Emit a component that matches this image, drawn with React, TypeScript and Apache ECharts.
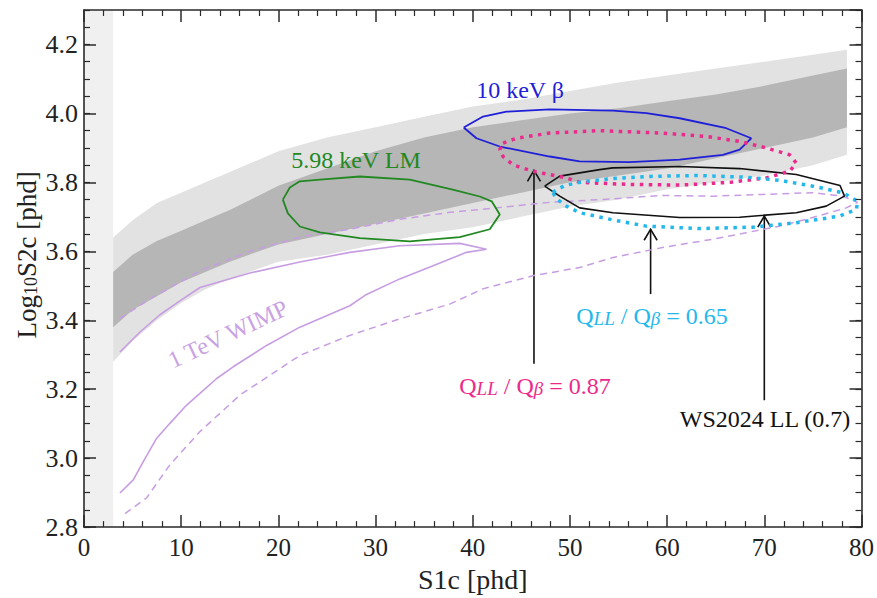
import React, { useEffect, useRef } from "react";
import * as echarts from "echarts";

const FONT = "'Liberation Serif', 'Times New Roman', serif";

// Excluded low-S1 strip
const excludedS1 = [0, 3];

// NR/ER band (grey) edges
const bandS1 = [3, 5, 7.5, 10, 12.5, 15, 20, 25, 30, 35, 40, 45, 50, 55, 60, 65, 70, 75, 78.5];
const outerUpper = [3.64, 3.69, 3.74, 3.77, 3.8, 3.83, 3.89, 3.93, 3.96, 3.99, 4.02, 4.04, 4.065, 4.09, 4.11, 4.13, 4.15, 4.17, 4.185];
const innerUpper = [3.54, 3.59, 3.63, 3.66, 3.69, 3.72, 3.79, 3.84, 3.89, 3.93, 3.96, 3.98, 4.0, 4.015, 4.035, 4.055, 4.08, 4.11, 4.13];
const innerLower = [3.38, 3.43, 3.47, 3.51, 3.54, 3.57, 3.62, 3.65, 3.68, 3.71, 3.74, 3.77, 3.8, 3.82, 3.84, 3.87, 3.9, 3.93, 3.96];
const outerLower = [3.28, 3.34, 3.4, 3.45, 3.49, 3.52, 3.57, 3.59, 3.62, 3.65, 3.67, 3.7, 3.73, 3.75, 3.78, 3.8, 3.82, 3.85, 3.88];

// Contours [S1c, log10 S2c]
const lm598: number[][] = [
  [20.46, 3.75], [21.18, 3.785], [22.21, 3.803], [24.27, 3.808], [28.38, 3.817], [33.52, 3.808],
  [37.94, 3.779], [40.72, 3.759], [41.95, 3.745], [42.78, 3.707], [41.75, 3.664], [38.66, 3.641],
  [33.52, 3.629], [28.38, 3.638], [24.27, 3.655], [22.21, 3.672], [20.98, 3.71], [20.46, 3.75],
];
const beta10: number[][] = [
  [39.07, 3.959], [41.06, 3.991], [43.47, 4.005], [47.92, 4.012], [54.43, 4.008], [57.86, 4.001],
  [61.29, 3.986], [66.09, 3.957], [68.66, 3.928], [67.46, 3.895], [65.74, 3.88], [61.29, 3.866],
  [56.14, 3.859], [51.0, 3.861], [47.92, 3.875], [42.78, 3.904], [40.38, 3.928], [39.07, 3.959],
];
const q087: number[][] = [
  [43.12, 3.914], [44.49, 3.928], [47.92, 3.943], [53.06, 3.95], [59.54, 3.943], [64.03, 3.933],
  [67.46, 3.919], [70.2, 3.9], [72.6, 3.88], [73.29, 3.856], [72.6, 3.832], [70.2, 3.813],
  [66.45, 3.8], [61.29, 3.792], [56.14, 3.794], [51.0, 3.8], [49.63, 3.813], [46.2, 3.832],
  [44.14, 3.851], [43.12, 3.875], [42.78, 3.895], [43.12, 3.914],
];
const ws2024: number[][] = [
  [47.4, 3.789], [48.95, 3.818], [53.06, 3.837], [54.4, 3.842], [61.29, 3.846], [67.46, 3.84],
  [73.29, 3.823], [77.79, 3.791], [78.25, 3.76], [76.37, 3.731], [73.29, 3.712], [67.46, 3.699],
  [61.29, 3.698], [54.43, 3.712], [51.0, 3.726], [48.95, 3.76], [47.4, 3.789],
];
const q065: number[][] = [
  [48.23, 3.771], [49.46, 3.791], [51.31, 3.802], [54.43, 3.811], [57.86, 3.817], [63.0, 3.82],
  [68.14, 3.815], [71.57, 3.806], [75.0, 3.789], [78.08, 3.77], [79.62, 3.745], [79.46, 3.721],
  [77.74, 3.702], [73.29, 3.683], [68.82, 3.67], [63.34, 3.666], [57.86, 3.673], [54.43, 3.691],
  [51.0, 3.712], [49.63, 3.731], [48.6, 3.753], [48.23, 3.771],
];
const wimpSolid: number[][] = [
  [3.7, 2.899], [5.07, 2.937], [6.1, 2.99], [7.48, 3.058], [8.84, 3.101], [10.56, 3.154], [11.93, 3.188],
  [13.65, 3.231], [15.35, 3.265], [18.79, 3.327], [22.21, 3.38], [27.35, 3.442], [29.07, 3.475],
  [32.49, 3.52], [35.92, 3.558], [39.35, 3.597], [41.41, 3.606],
  [38.66, 3.623], [32.49, 3.616], [27.35, 3.597], [22.21, 3.569], [17.07, 3.537], [11.93, 3.495],
  [9.87, 3.456], [7.81, 3.416], [5.76, 3.366], [3.7, 3.308],
];
const wimpDashed: number[][] = [
  [3.7, 3.405], [6.79, 3.462], [11.93, 3.543], [17.07, 3.6], [22.21, 3.641], [27.35, 3.664],
  [32.49, 3.693], [37.64, 3.713], [42.78, 3.727], [47.92, 3.742], [53.06, 3.75], [59.54, 3.762],
  [64.67, 3.76], [69.82, 3.765], [74.96, 3.77], [78.05, 3.76], [79.6, 3.742],
  [78.43, 3.726], [74.96, 3.698], [71.57, 3.673], [68.14, 3.654], [64.67, 3.635], [59.54, 3.611],
  [54.43, 3.582], [51.0, 3.553], [46.17, 3.529], [41.03, 3.491], [37.64, 3.447], [32.49, 3.404],
  [27.35, 3.356], [22.21, 3.298], [16.04, 3.183], [11.93, 3.077], [8.84, 2.981], [6.45, 2.885], [3.88, 2.832],
];

// Annotation arrows: x, from y, to y
const arrowS1 = [46.3, 58.3, 70.0];
const arrowFrom = [3.274, 3.476, 3.168];
const arrowTo = [3.835, 3.664, 3.702];

const xTicks = { min: 0, max: 80, interval: 10 };
const yTicks = { min: 2.8, max: 4.3, major: 0.2, minor: 0.05 };

const AX = "#2a2a2a";

function polygonSeries(upper: number[], lower: number[], fill: string) {
  return {
    type: "custom",
    silent: true,
    data: [[bandS1[0], lower[0]]],
    renderItem: (_p: any, api: any) => {
      const pts: number[][] = [];
      bandS1.forEach((x, i) => pts.push(api.coord([x, upper[i]])));
      for (let i = bandS1.length - 1; i >= 0; i--) pts.push(api.coord([bandS1[i], lower[i]]));
      return { type: "polygon", shape: { points: pts }, style: { fill } };
    },
  };
}

function lineSeries(data: number[][], color: string, width: number, type: any = "solid") {
  return {
    type: "line",
    data,
    showSymbol: false,
    symbol: "none",
    silent: true,
    smooth: false,
    lineStyle: { color, width, type, cap: "butt" },
  };
}

export default function App() {
  const ref = useRef<HTMLDivElement>(null);
  useEffect(() => {
    const chart = echarts.init(ref.current!, null, { renderer: "svg" });
    const axisLine = { show: true, lineStyle: { color: AX, width: 1.6 } };
    const majorTick = { show: true, inside: true, length: 12, lineStyle: { color: AX, width: 1.5 } };
    const minorTickAxis = { show: true, inside: true, length: 6, lineStyle: { color: AX, width: 1.2 } };
    const xCommon = {
      type: "value",
      z: 10,
      min: xTicks.min,
      max: xTicks.max,
      interval: xTicks.interval,
      splitLine: { show: false },
      axisLine,
      axisTick: majorTick,
      minorTick: { show: true, splitNumber: 5, length: 6, lineStyle: { color: AX, width: 1.2 } },
    };
    const yBase = { type: "value", z: 10, min: yTicks.min, max: yTicks.max, splitLine: { show: false } };
    const sub = (size: number, lh: number, color: string, italic = false) => ({
      fontSize: size,
      fontFamily: FONT,
      fontStyle: italic ? "italic" : "normal",
      lineHeight: lh,
      verticalAlign: "bottom",
      fill: color,
      color,
    });
    const qRich = (color: string) => ({
      n: sub(24, 28, color),
      s: sub(19, 21, color, true),
      b: sub(19, 17, color, true),
    });

    chart.setOption({
      animation: false,
      backgroundColor: "#fff",
      grid: { left: 84, right: 15, top: 10, bottom: 68 },
      xAxis: [
        {
          ...xCommon,
          position: "bottom",
          axisLabel: { fontFamily: FONT, fontSize: 25, color: "#222", margin: 8 },
          name: "S1c [phd]",
          nameLocation: "middle",
          nameGap: 37,
          nameTextStyle: { fontFamily: FONT, fontSize: 28, color: "#222" },
        },
        { ...xCommon, position: "top", axisLabel: { show: false } },
      ],
      yAxis: [
        {
          ...yBase,
          position: "left",
          interval: yTicks.major,
          axisLine,
          axisTick: majorTick,
          axisLabel: {
            fontFamily: FONT,
            fontSize: 26,
            color: "#222",
            margin: 6,
            showMaxLabel: false,
            formatter: (v: number) => v.toFixed(1),
          },
        },
        {
          ...yBase,
          position: "left",
          interval: yTicks.minor,
          axisLine: { show: false },
          axisTick: minorTickAxis,
          axisLabel: { show: false },
        },
        {
          ...yBase,
          position: "right",
          interval: yTicks.major,
          axisLine,
          axisTick: majorTick,
          axisLabel: { show: false },
        },
        {
          ...yBase,
          position: "right",
          interval: yTicks.minor,
          axisLine: { show: false },
          axisTick: minorTickAxis,
          axisLabel: { show: false },
        },
      ],
      series: [
        {
          type: "custom",
          silent: true,
          z: 1,
          data: [[excludedS1[0], yTicks.min]],
          renderItem: (_p: any, api: any) => {
            const a = api.coord([excludedS1[0], yTicks.max]);
            const b = api.coord([excludedS1[1], yTicks.min]);
            return {
              type: "rect",
              shape: { x: a[0], y: a[1], width: b[0] - a[0], height: b[1] - a[1] },
              style: { fill: "#f0f0f0" },
            };
          },
        },
        polygonSeries(outerUpper, outerLower, "#e2e2e2"),
        polygonSeries(innerUpper, innerLower, "#b6b6b6"),
        lineSeries(wimpDashed, "#c79de2", 1.5, [7, 5]),
        lineSeries(wimpSolid, "#c79de2", 1.6),
        lineSeries(lm598, "#228822", 1.8),
        lineSeries(beta10, "#1f1fd8", 1.8),
        lineSeries(ws2024, "#111111", 1.6),
        lineSeries(q087, "#ec2a8c", 3.5, [3.5, 5.5]),
        lineSeries(q065, "#22b8ec", 3.5, [3.5, 5.5]),
        {
          type: "custom",
          silent: true,
          encode: { x: 0, y: [1, 2] },
          data: arrowS1.map((x, i) => [x, arrowFrom[i], arrowTo[i]]),
          renderItem: (_p: any, api: any) => {
            const p0 = api.coord([api.value(0), api.value(1)]);
            const p1 = api.coord([api.value(0), api.value(2)]);
            return {
              type: "group",
              children: [
                {
                  type: "line",
                  shape: { x1: p0[0], y1: p0[1], x2: p1[0], y2: p1[1] },
                  style: { stroke: "#111", lineWidth: 1.6 },
                },
                {
                  type: "polyline",
                  shape: { points: [[p1[0] - 6.5, p1[1] + 11], [p1[0], p1[1]], [p1[0] + 6.5, p1[1] + 11]] },
                  style: { stroke: "#111", lineWidth: 1.6, fill: "none" },
                },
              ],
            };
          },
        },
      ],
      graphic: [
        {
          type: "text",
          x: 25,
          y: 255,
          rotation: Math.PI / 2,
          z: 100,
          style: {
            text: "{n|Log}{s|10}{n|S2c [phd]}",
            align: "center",
            verticalAlign: "middle",
            fill: "#222",
            rich: { n: sub(27, 30, "#222"), s: sub(18, 18, "#222") },
          },
        },
        {
          type: "text",
          x: 520,
          y: 90,
          z: 100,
          style: { text: "10 keV β", fontFamily: FONT, fontSize: 24, fill: "#1f1fd8", align: "center", verticalAlign: "middle" },
        },
        {
          type: "text",
          x: 356,
          y: 160,
          z: 100,
          style: { text: "5.98 keV LM", fontFamily: FONT, fontSize: 24, fill: "#228822", align: "center", verticalAlign: "middle" },
        },
        {
          type: "text",
          x: 228,
          y: 334,
          rotation: 0.44,
          z: 100,
          style: { text: "1 TeV WIMP", fontFamily: FONT, fontSize: 24, fill: "#c9a2e4", align: "center", verticalAlign: "middle" },
        },
        {
          type: "text",
          x: 535,
          y: 384,
          z: 100,
          style: {
            text: "{n|Q}{s|LL}{n| / Q}{b|β}{n| = 0.87}",
            align: "center",
            verticalAlign: "middle",
            fill: "#ec2a8c",
            rich: qRich("#ec2a8c"),
          },
        },
        {
          type: "text",
          x: 652,
          y: 314,
          z: 100,
          style: {
            text: "{n|Q}{s|LL}{n| / Q}{b|β}{n| = 0.65}",
            align: "center",
            verticalAlign: "middle",
            fill: "#22b8ec",
            rich: qRich("#22b8ec"),
          },
        },
        {
          type: "text",
          x: 765,
          y: 419,
          z: 100,
          style: { text: "WS2024 LL (0.7)", fontFamily: FONT, fontSize: 24, fill: "#111", align: "center", verticalAlign: "middle" },
        },
      ],
    });
    return () => chart.dispose();
  }, []);
  return <div ref={ref} style={{ position: "fixed", left: 0, top: 0, width: 877, height: 598 }} />;
}
